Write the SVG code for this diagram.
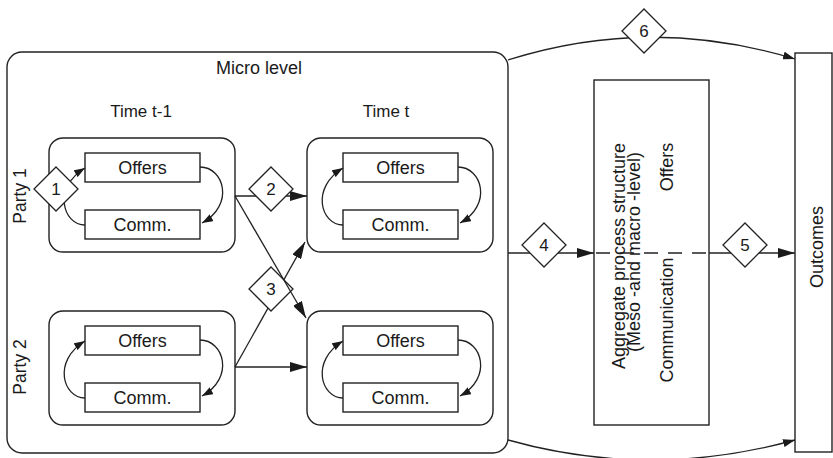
<svg xmlns="http://www.w3.org/2000/svg" width="833" height="458" viewBox="0 0 833 458">
<defs>
<style>
.box{fill:#fff;stroke:#222;stroke-width:1.4}
.rbox{fill:none;stroke:#222;stroke-width:1.4}
.ln{fill:none;stroke:#222;stroke-width:1.3}
.dash{fill:none;stroke:#222;stroke-width:1.3;stroke-dasharray:14 10}
.dia{fill:#fff;stroke:#222;stroke-width:1.3}
text{font-family:"Liberation Sans",Arial,sans-serif;fill:#1a1a1a;font-size:18px}
.c{text-anchor:middle}
.num{font-size:17px;text-anchor:middle}
</style>
<marker id="ab" markerWidth="17" markerHeight="10" refX="17" refY="5" orient="auto" markerUnits="userSpaceOnUse"><path d="M0,0 L17,5 L0,10 z" fill="#1a1a1a"/></marker>
<marker id="am" markerWidth="12" markerHeight="8" refX="12" refY="4" orient="auto" markerUnits="userSpaceOnUse"><path d="M0,0 L12,4 L0,8 z" fill="#1a1a1a"/></marker>
<marker id="as" markerWidth="11" markerHeight="8" refX="11" refY="4" orient="auto" markerUnits="userSpaceOnUse"><path d="M0,0 L11,4 L0,8 z" fill="#1a1a1a"/></marker>
</defs>
<rect width="833" height="458" fill="#fff"/>

<g id="micro">
<rect class="rbox" x="7" y="52" width="501" height="401" rx="15"/>
<text class="c" x="259" y="74">Micro level</text>
<text class="c" x="141" y="117" style="font-size:17px">Time t-1</text>
<text class="c" x="386" y="117" style="font-size:17px">Time t</text>
<text class="c" transform="translate(26,196) rotate(-90)" style="font-size:17.5px">Party 1</text>
<text class="c" transform="translate(26,367) rotate(-90)" style="font-size:17.5px">Party 2</text>
</g>

<g id="p1-t1" transform="translate(0,0)">
<rect class="rbox" x="49" y="138" width="186" height="114" rx="14"/>
<rect class="box" x="85" y="153" width="115" height="29"/>
<text class="c" x="142.5" y="174">Offers</text>
<rect class="box" x="85" y="210" width="115" height="29"/>
<text class="c" x="142.5" y="231">Comm.</text>
</g>
<g id="p1-t" transform="translate(258,0)">
<rect class="rbox" x="49" y="138" width="186" height="114" rx="14"/>
<rect class="box" x="85" y="153" width="115" height="29"/>
<text class="c" x="142.5" y="174">Offers</text>
<rect class="box" x="85" y="210" width="115" height="29"/>
<text class="c" x="142.5" y="231">Comm.</text>
</g>
<g id="p2-t1" transform="translate(0,173)">
<rect class="rbox" x="49" y="138" width="186" height="114" rx="14"/>
<rect class="box" x="85" y="153" width="115" height="29"/>
<text class="c" x="142.5" y="174">Offers</text>
<rect class="box" x="85" y="210" width="115" height="29"/>
<text class="c" x="142.5" y="231">Comm.</text>
</g>
<g id="p2-t" transform="translate(258,173)">
<rect class="rbox" x="49" y="138" width="186" height="114" rx="14"/>
<rect class="box" x="85" y="153" width="115" height="29"/>
<text class="c" x="142.5" y="174">Offers</text>
<rect class="box" x="85" y="210" width="115" height="29"/>
<text class="c" x="142.5" y="231">Comm.</text>
</g>

<g id="aggregate">
<rect class="box" x="594" y="80" width="115" height="345"/>
<text class="c" transform="translate(625,256) rotate(-90)">Aggregate process structure</text>
<text class="c" transform="translate(640,252) rotate(-90)">(Meso -and macro -level)</text>
<text class="c" transform="translate(673,167) rotate(-90)">Offers</text>
<text class="c" transform="translate(673,320) rotate(-90)">Communication</text>
</g>

<g id="outcomes">
<rect class="box" x="795" y="53" width="37" height="399"/>
<text class="c" transform="translate(823,247) rotate(-90)">Outcomes</text>
</g>

<g id="connectors">
<g transform="translate(0,0)"><path class="ln" d="M200,167 C224,167 235,205 202,223" marker-end="url(#as)"/><path class="ln" d="M85,225 C63,225 52,188 85,168" marker-end="url(#as)"/></g>
<g transform="translate(258,0)"><path class="ln" d="M200,167 C224,167 235,205 202,223" marker-end="url(#as)"/><path class="ln" d="M85,225 C63,225 52,188 85,168" marker-end="url(#as)"/></g>
<g transform="translate(0,173)"><path class="ln" d="M200,167 C224,167 235,205 202,223" marker-end="url(#as)"/><path class="ln" d="M85,225 C63,225 52,188 85,168" marker-end="url(#as)"/></g>
<g transform="translate(258,173)"><path class="ln" d="M200,167 C224,167 235,205 202,223" marker-end="url(#as)"/><path class="ln" d="M85,225 C63,225 52,188 85,168" marker-end="url(#as)"/></g>
<path class="ln" d="M235,196 H307" marker-end="url(#ab)"/>
<path class="ln" d="M235,367 H307" marker-end="url(#ab)"/>
<path class="ln" d="M235,367 L305,242" marker-end="url(#ab)"/>
<path class="ln" d="M508,253 H594" marker-end="url(#ab)"/>
<path class="dash" d="M596,253 H709"/>
<path class="ln" d="M709,253 H795" marker-end="url(#ab)"/>
<path class="ln" d="M508,60 Q650,15 795,59" marker-end="url(#am)"/>
<path class="ln" d="M508,440 Q650,480 795,440" marker-end="url(#am)"/>
</g>

<g id="d1"><polygon class="dia" points="56,167 78,189 56,211 34,189"/><text class="num" x="56" y="195">1</text></g>
<g id="d2"><polygon class="dia" points="271,167 293,189 271,211 249,189"/><text class="num" x="271" y="195">2</text></g>
<g id="d3"><polygon class="dia" points="271,267 293,289 271,311 249,289"/><text class="num" x="271" y="295">3</text></g>
<g id="d4"><polygon class="dia" points="544,223 566,245 544,267 522,245"/><text class="num" x="544" y="251">4</text></g>
<g id="d5"><polygon class="dia" points="745,223 767,245 745,267 723,245"/><text class="num" x="745" y="251">5</text></g>
<g id="d6"><polygon class="dia" points="644,9 666,31 644,53 622,31"/><text class="num" x="644" y="37">6</text></g>

<g id="connectors-over">
<path class="ln" d="M235,196 L306,318" marker-end="url(#ab)"/>
</g>
</svg>
